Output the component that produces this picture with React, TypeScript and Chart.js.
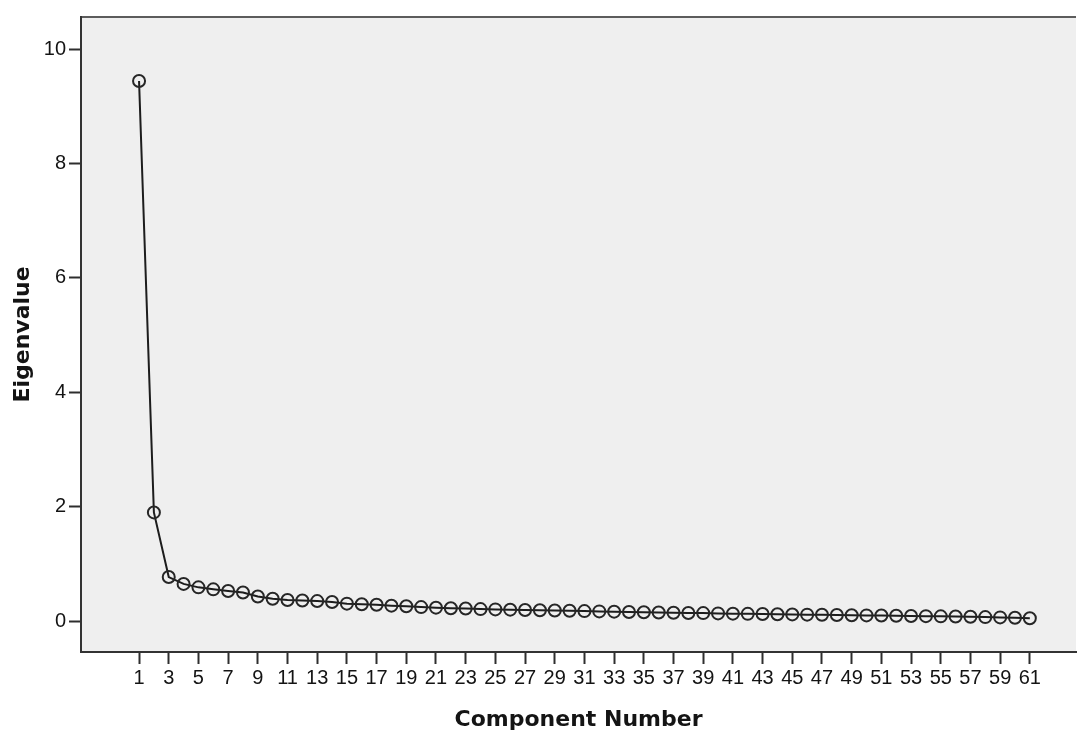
import React, { useEffect, useRef } from "react";
import { Chart, registerables } from "chart.js";

Chart.register(...registerables);

// Component numbers (categories)
const components = [
  1, 2, 3, 4, 5, 6, 7, 8, 9, 10,
  11, 12, 13, 14, 15, 16, 17, 18, 19, 20,
  21, 22, 23, 24, 25, 26, 27, 28, 29, 30,
  31, 32, 33, 34, 35, 36, 37, 38, 39, 40,
  41, 42, 43, 44, 45, 46, 47, 48, 49, 50,
  51, 52, 53, 54, 55, 56, 57, 58, 59, 60,
  61,
];

// Eigenvalues
const eigenvalues = [
  9.44, 1.9, 0.77, 0.65, 0.59, 0.555, 0.525, 0.5, 0.43, 0.39,
  0.37, 0.36, 0.35, 0.335, 0.305, 0.295, 0.285, 0.27, 0.26, 0.245,
  0.235, 0.225, 0.22, 0.21, 0.205, 0.2, 0.195, 0.19, 0.185, 0.18,
  0.175, 0.17, 0.165, 0.16, 0.155, 0.15, 0.147, 0.143, 0.14, 0.135,
  0.13, 0.127, 0.123, 0.12, 0.117, 0.113, 0.11, 0.107, 0.103, 0.1,
  0.097, 0.093, 0.09, 0.087, 0.083, 0.08, 0.075, 0.07, 0.065, 0.058,
  0.05,
];

const xTickValues = [
  1, 3, 5, 7, 9, 11, 13, 15, 17, 19, 21, 23, 25, 27, 29, 31,
  33, 35, 37, 39, 41, 43, 45, 47, 49, 51, 53, 55, 57, 59, 61,
];
const yTickValues = [0, 2, 4, 6, 8, 10];

const xAxisTitle = "Component Number";
const yAxisTitle = "Eigenvalue";

const plotBackground = {
  id: "plotBackground",
  beforeDraw(chart: any) {
    const { ctx, chartArea } = chart;
    const { left, top, right, bottom } = chartArea;
    ctx.save();
    ctx.fillStyle = "#ffffff";
    ctx.fillRect(0, 0, chart.width, chart.height);
    ctx.fillStyle = "#efefef";
    ctx.fillRect(left, top, right - left, bottom - top);
    ctx.strokeStyle = "#5c5c5c";
    ctx.lineWidth = 2;
    ctx.beginPath();
    ctx.moveTo(left, top);
    ctx.lineTo(right, top);
    ctx.stroke();
    ctx.restore();
  },
};

export default function App() {
  const canvasRef = useRef<HTMLCanvasElement | null>(null);

  useEffect(() => {
    const canvas = canvasRef.current;
    if (!canvas) return;
    const tickFont = { family: "Arial, 'Liberation Sans', sans-serif", size: 20 };
    const titleFont = { family: "'DejaVu Sans', sans-serif", size: 22, weight: "bold" as const };
    const chart = new Chart(canvas, {
      type: "line",
      data: {
        datasets: [
          {
            data: components.map((c, i) => ({ x: c, y: eigenvalues[i] })),
            borderColor: "#1c1c1c",
            borderWidth: 2,
            tension: 0,
            pointRadius: 6,
            pointHoverRadius: 6,
            pointBorderWidth: 2,
            pointBorderColor: "#262626",
            pointBackgroundColor: "rgba(0,0,0,0)",
            fill: false,
          },
        ],
      },
      options: {
        animation: false,
        responsive: false,
        maintainAspectRatio: false,
        layout: { padding: { top: 17, right: 0, left: 0, bottom: 0 } },
        plugins: {
          legend: { display: false },
          tooltip: { enabled: false },
        },
        scales: {
          x: {
            type: "linear",
            min: -2.91,
            max: 64.11,
            afterBuildTicks: (scale: any) => {
              scale.ticks = xTickValues.map((v) => ({ value: v }));
            },
            afterFit: (scale: any) => {
              scale.height = 81;
            },
            grid: {
              display: true,
              drawOnChartArea: false,
              drawTicks: true,
              tickLength: 12,
              tickWidth: 2,
              tickColor: "#2e2e2e",
            },
            border: { display: true, color: "#333333", width: 2 },
            ticks: {
              autoSkip: false,
              maxRotation: 0,
              minRotation: 0,
              padding: 2,
              color: "#141414",
              font: tickFont,
              callback: (v: any) => String(v),
            },
            title: {
              display: true,
              text: xAxisTitle,
              color: "#141414",
              font: titleFont,
              padding: { top: 0, bottom: 0 },
            },
          },
          y: {
            type: "linear",
            min: -0.54,
            max: 10.56,
            afterBuildTicks: (scale: any) => {
              scale.ticks = yTickValues.map((v) => ({ value: v }));
            },
            afterFit: (scale: any) => {
              scale.width = 81;
            },
            grid: {
              display: true,
              drawOnChartArea: false,
              drawTicks: true,
              tickLength: 12,
              tickWidth: 2,
              tickColor: "#2e2e2e",
            },
            border: { display: true, color: "#333333", width: 2 },
            ticks: {
              padding: 3,
              color: "#141414",
              font: tickFont,
              callback: (v: any) => String(v),
            },
            title: {
              display: true,
              text: yAxisTitle,
              color: "#141414",
              font: titleFont,
              padding: { top: 10, bottom: 0 },
            },
          },
        },
      },
      plugins: [plotBackground],
    });
    return () => chart.destroy();
  }, []);

  return (
    <div style={{ position: "fixed", left: 0, top: 0, width: 1084, height: 733, background: "#ffffff" }}>
      <canvas ref={canvasRef} width={1084} height={733} style={{ display: "block" }} />
    </div>
  );
}
